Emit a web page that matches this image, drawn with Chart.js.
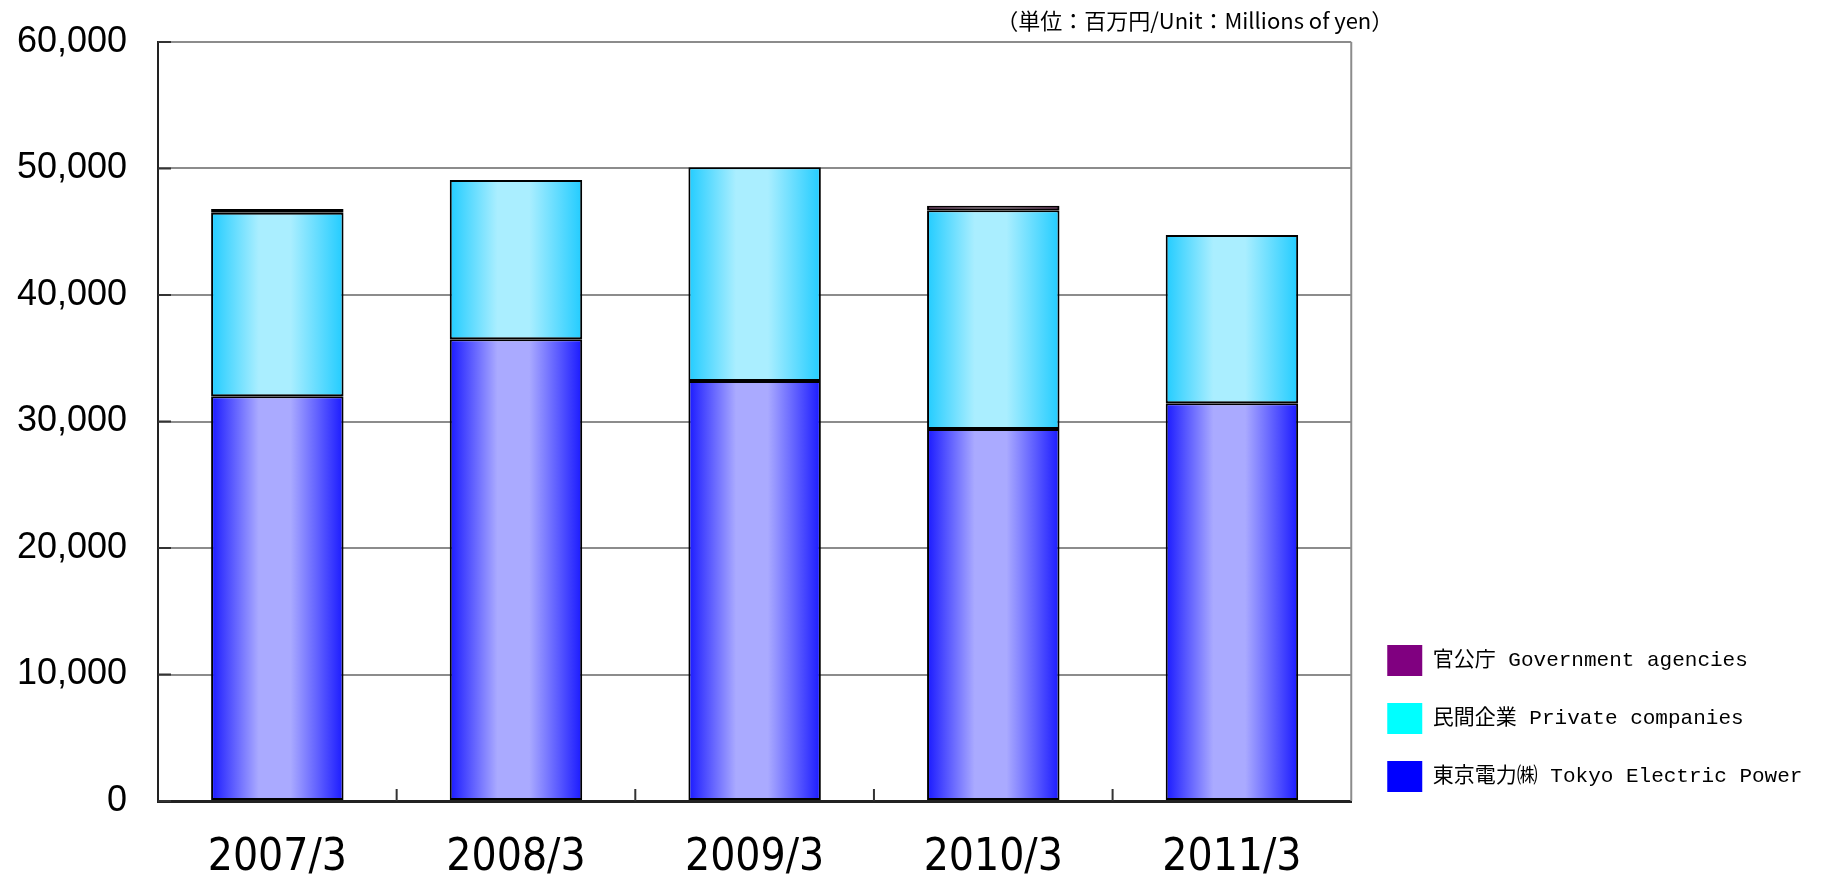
<!DOCTYPE html>
<html>
<head>
<meta charset="utf-8">
<script src="https://cdn.jsdelivr.net/npm/chart.js"></script>
<style>
  html, body { margin: 0; padding: 0; background: #fff; }
  #wrap { width: 1821px; height: 875px; position: relative; }
</style>
</head>
<body>
<div id="wrap"><canvas id="chart"></canvas></div>
<script>
const labels = ['2007/3', '2008/3', '2009/3', '2010/3', '2011/3'];
const tokyoElectric = [32000, 36500, 33200, 29400, 31450];
const privateCompanies = [14500, 12600, 16900, 17300, 13300];
const govAgencies = [300, 0, 0, 350, 0];
const yTicks = [0, 10000, 20000, 30000, 40000, 50000, 60000];
const unitText = '（単位：百万円/Unit：Millions of yen）';

const BAR_PCT = 0.555;

// horizontal gradient across each bar: dark edges, light middle
const barGradient = (dark, light) => (ctx) => {
    if (ctx.type !== 'data') return dark;
    const chart = ctx.chart;
    const x = chart.scales.x;
    if (!x) return dark;
    const center = x.getPixelForValue(ctx.dataIndex);
    const half = (x.width / labels.length) * BAR_PCT / 2;
    if (!isFinite(center) || !half) return dark;
    const g = chart.ctx.createLinearGradient(center - half, 0, center + half, 0);
    g.addColorStop(0, dark);
    g.addColorStop(0.36, light);
    g.addColorStop(0.6, light);
    g.addColorStop(1, dark);
    return g;
};

const framePlugin = {
    id: 'frame',
    afterLayout(chart) {
        // move the legend block to where the original one sits
        const lg = chart.legend;
        if (lg) {
            lg.top -= 56;
            lg.bottom -= 56;
            lg.left += 9;
            lg.right += 9;
        }
    },
    afterDraw(chart) {
        const { ctx, chartArea: a, scales } = chart;
        ctx.save();
        // right border
        ctx.strokeStyle = '#8c8c8c';
        ctx.lineWidth = 2;
        ctx.beginPath();
        ctx.moveTo(a.right, a.top);
        ctx.lineTo(a.right, a.bottom);
        ctx.stroke();
        // short ticks between categories
        ctx.strokeStyle = '#333';
        ctx.beginPath();
        for (let i = 1; i < labels.length; i++) {
            const bx = (scales.x.getPixelForValue(i - 1) + scales.x.getPixelForValue(i)) / 2;
            ctx.moveTo(bx, a.bottom);
            ctx.lineTo(bx, a.bottom - 12);
        }
        // inward ticks on value axis
        yTicks.forEach(v => {
            const y = scales.y.getPixelForValue(v);
            ctx.moveTo(a.left, y);
            ctx.lineTo(a.left + 13, y);
        });
        ctx.stroke();
        // unit label
        ctx.fillStyle = '#000';
        ctx.font = '22px "Noto Sans CJK JP", sans-serif';
        ctx.textAlign = 'right';
        ctx.textBaseline = 'middle';
        ctx.fillText(unitText, a.right + 42, 21);
        ctx.restore();
    }
};

new Chart(document.getElementById('chart'), {
    type: 'bar',
    data: {
        labels: labels,
        datasets: [
            {
                label: '東京電力㈱ Tokyo Electric Power',
                data: tokyoElectric,
                backgroundColor: barGradient('#1a1aff', '#aaaaff'),
                legendColor: '#0000ff'
            },
            {
                label: '民間企業 Private companies',
                data: privateCompanies,
                backgroundColor: barGradient('#22ccff', '#aaeeff'),
                legendColor: '#00ffff'
            },
            {
                label: '官公庁 Government agencies',
                data: govAgencies,
                backgroundColor: barGradient('#800060', '#d8a8c8'),
                legendColor: '#800080'
            }
        ].map(ds => Object.assign(ds, {
            borderColor: '#000',
            borderWidth: 2,
            borderSkipped: false,
            barPercentage: BAR_PCT,
            categoryPercentage: 1
        }))
    },
    options: {
        responsive: true,
        maintainAspectRatio: false,
        animation: false,
        layout: { padding: { top: 42, left: 14, right: 24, bottom: 0 } },
        plugins: {
            tooltip: { enabled: false },
            title: { display: false },
            legend: {
                position: 'right',
                align: 'end',
                reverse: true,
                labels: {
                    boxWidth: 35,
                    boxHeight: 31,
                    padding: 27,
                    color: '#000',
                    font: { family: '"Liberation Mono", "Noto Sans CJK JP", monospace', size: 21 },
                    generateLabels: (chart) => chart.data.datasets.map((ds, i) => ({
                        text: ds.label,
                        fillStyle: ds.legendColor,
                        strokeStyle: ds.legendColor,
                        lineWidth: 0,
                        hidden: false,
                        datasetIndex: i,
                        fontColor: '#000'
                    }))
                }
            }
        },
        scales: {
            x: {
                stacked: true,
                grid: { display: false, drawTicks: false },
                border: { display: true, color: '#222', width: 3 },
                afterFit: (axis) => { axis.height = 74; },
                ticks: {
                    color: '#000',
                    padding: 36,
                    font: { family: '"Liberation Sans Narrow", "DejaVu Sans Condensed", sans-serif', size: 44, lineHeight: 1 }
                }
            },
            y: {
                stacked: true,
                min: 0,
                max: 60000,
                grid: { color: '#8c8c8c', lineWidth: 2, drawTicks: true, tickLength: 31, tickColor: 'rgba(0,0,0,0)' },
                border: { display: true, color: '#222', width: 2 },
                afterBuildTicks: (axis) => { axis.ticks = yTicks.map(v => ({ value: v })); },
                afterFit: (axis) => { axis.width = 144; },
                ticks: {
                    color: '#000',
                    padding: 0,
                    font: { family: '"Liberation Sans", Arial, sans-serif', size: 36 },
                    callback: v => v.toLocaleString('en-US')
                }
            }
        }
    },
    plugins: [framePlugin]
});
</script>
</body>
</html>
